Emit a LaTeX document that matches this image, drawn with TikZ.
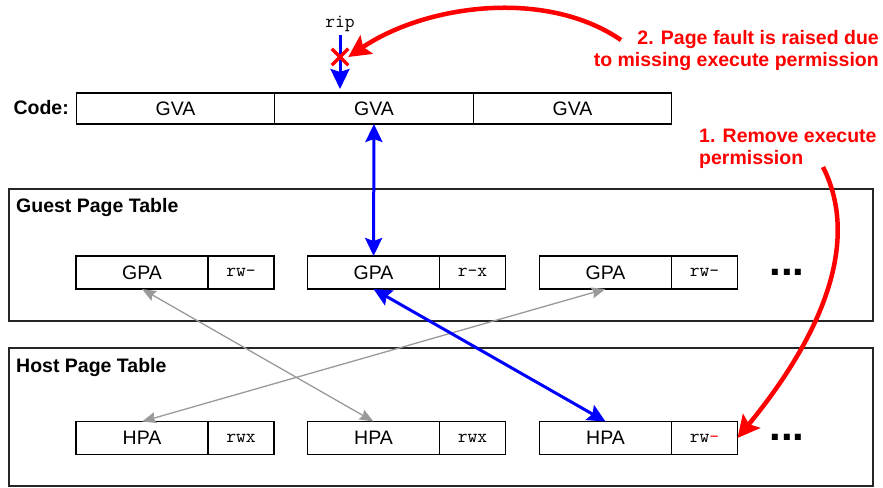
\documentclass[tikz,border=0pt]{standalone}
\usepackage{fontspec}
\setmainfont{Liberation Sans}
\usepackage{xcolor}
\usetikzlibrary{positioning,arrows.meta,shapes.misc}

\begin{document}
\begin{tikzpicture}[x=1pt,y=-1pt,
    every node/.style={font=\fontsize{19.5}{22}\selectfont},
    cell/.style={draw,line width=1.3pt,outer sep=0pt,inner sep=0pt,minimum height=33pt},
    addr/.style={cell,minimum width=132pt},
    perm/.style={cell,minimum width=66pt,font=\fontsize{19}{22}\selectfont\ttfamily},
    table/.style={draw=black!85,line width=1.3pt,outer sep=0pt,anchor=north west,minimum width=864pt},
    title/.style={font=\fontsize{19.5}{22}\selectfont\bfseries,inner sep=0pt},
    note/.style={font=\fontsize{19.5}{22}\selectfont\bfseries,text=red,inner sep=0pt},
    walk/.style={blue,line width=3pt,{Stealth[length=18pt,width=17pt,inset=3pt]}-{Stealth[length=18pt,width=17pt,inset=3pt]}},
    other/.style={black!40,line width=1.3pt,{Stealth[length=14pt,width=11pt,inset=2pt]}-{Stealth[length=14pt,width=11pt,inset=2pt]}},
    fault/.style={red,line width=4.5pt,-{Stealth[length=22pt,width=22pt,inset=4pt]}}]
    \useasboundingbox (0,0) rectangle (883,487);

    % code page
    \node[title,anchor=east] (code) at (69,108) {Code:};
    \node[cell,minimum width=198.5pt,minimum height=31pt] (gva1) at (175.5,108.5) {GVA};
    \node[cell,minimum width=198.5pt,minimum height=31pt,right=0pt of gva1] (gva2) {GVA};
    \node[cell,minimum width=198.5pt,minimum height=31pt,right=0pt of gva2] (gva3) {GVA};
    \node[font=\fontsize{19}{22}\selectfont\ttfamily] (rip) at (340,24) {rip};

    % guest page table
    \node[table,minimum height=132pt] (guest) at (9,189) {};
    \node[title,anchor=west] at (16,207) {Guest Page Table};
    \node[addr] (gpa1) at (142,272.5) {GPA};
    \node[perm,right=0pt of gpa1] (gperm1) {rw-};
    \node[addr] (gpa2) at (373.5,272.5) {GPA};
    \node[perm,right=0pt of gpa2] (gperm2) {r-x};
    \node[addr] (gpa3) at (605.5,272.5) {GPA};
    \node[perm,right=0pt of gpa3] (gperm3) {rw-};
    \node[font=\fontsize{42}{42}\selectfont\bfseries,inner sep=0pt] (gmore) at (787,272) {...};

    % host page table
    \node[table,minimum height=138pt] (host) at (9,348) {};
    \node[title,anchor=west] at (16,367) {Host Page Table};
    \node[addr] (hpa1) at (142,438) {HPA};
    \node[perm,right=0pt of hpa1] (hperm1) {rwx};
    \node[addr] (hpa2) at (373.5,438) {HPA};
    \node[perm,right=0pt of hpa2] (hperm2) {rwx};
    \node[addr] (hpa3) at (605.5,438) {HPA};
    \node[perm,right=0pt of hpa3] (hperm3) {rw\textcolor{red}{-}};
    \node[font=\fontsize{42}{42}\selectfont\bfseries,inner sep=0pt] (hmore) at (787,437) {...};

    % translations
    \draw[other] (gpa1.south) -- (hpa2.north);
    \draw[other] (gpa3.south) -- (hpa1.north);
    \draw[walk] (gva2) -- (gpa2);
    \draw[walk] (gpa2.south) -- (hpa3.north);
    \draw[blue,line width=3pt,-{Stealth[length=20pt,width=19pt,inset=3pt]}] (rip.south) -- ([yshift=4pt]rip.south |- gva2.north);
    \node[cross out,draw=red,line width=3.5pt,minimum size=13pt,inner sep=0pt] (miss) at (340,57) {};

    % notes
    \node[note,align=left,anchor=west] (remove) at (699,149) {1. Remove execute\\permission};
    \node[note,align=right,anchor=east] (raised) at (879,51) {2. Page fault is raised due\\to missing execute permission};
    \coordinate (remove end) at (823,167);
    \coordinate (raised end) at (621,40);
    \draw[fault] (remove end) .. controls (865,250) and (810,350) .. (hperm3.east);
    \draw[fault] (raised end) .. controls (545,-12) and (425,5) .. (miss.east);
\end{tikzpicture}
\end{document}
